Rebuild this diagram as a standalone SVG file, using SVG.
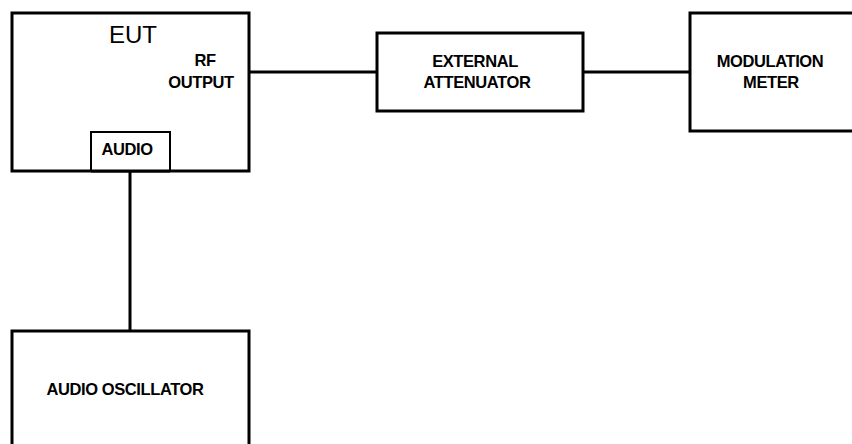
<svg xmlns="http://www.w3.org/2000/svg" width="852" height="444" viewBox="0 0 852 444">
<style>
.box{fill:#fff;stroke:#000;stroke-width:3}
.sub{fill:#fff;stroke:#000;stroke-width:2}
.wire{stroke:#000;stroke-width:3;fill:none}
.lbl{font-family:"Liberation Sans",Arial,sans-serif;font-weight:bold;font-size:16.5px;fill:#000;text-anchor:middle;letter-spacing:-0.4px}
.big{font-family:"Liberation Sans",Arial,sans-serif;font-size:24px;fill:#000;text-anchor:middle}
</style>
<rect width="852" height="444" fill="#fff"/>
<g id="connectors">
<line class="wire" x1="249" y1="72" x2="377" y2="72"/>
<line class="wire" x1="583" y1="72" x2="690" y2="72"/>
<line class="wire" x1="130" y1="171" x2="130" y2="331"/>
</g>
<g id="eut">
<rect class="box" x="12" y="13" width="237" height="158"/>
<text class="big" x="133" y="43">EUT</text>
<text class="lbl" x="205" y="66">RF</text>
<text class="lbl" x="201" y="88">OUTPUT</text>
</g>
<g id="audio-port">
<rect class="sub" x="91" y="132" width="79" height="39"/>
<line class="wire" x1="91" y1="171" x2="170" y2="171"/>
<text class="lbl" x="127" y="155">AUDIO</text>
</g>
<g id="attenuator">
<rect class="box" x="377" y="33" width="206" height="78"/>
<text class="lbl" x="475" y="67">EXTERNAL</text>
<text class="lbl" x="477" y="88">ATTENUATOR</text>
</g>
<g id="modulation-meter">
<rect class="box" x="690" y="13" width="180" height="118"/>
<text class="lbl" x="770" y="67">MODULATION</text>
<text class="lbl" x="771" y="88">METER</text>
</g>
<g id="audio-oscillator">
<rect class="box" x="12" y="331" width="237" height="130"/>
<text class="lbl" x="125" y="395">AUDIO OSCILLATOR</text>
</g>
</svg>
